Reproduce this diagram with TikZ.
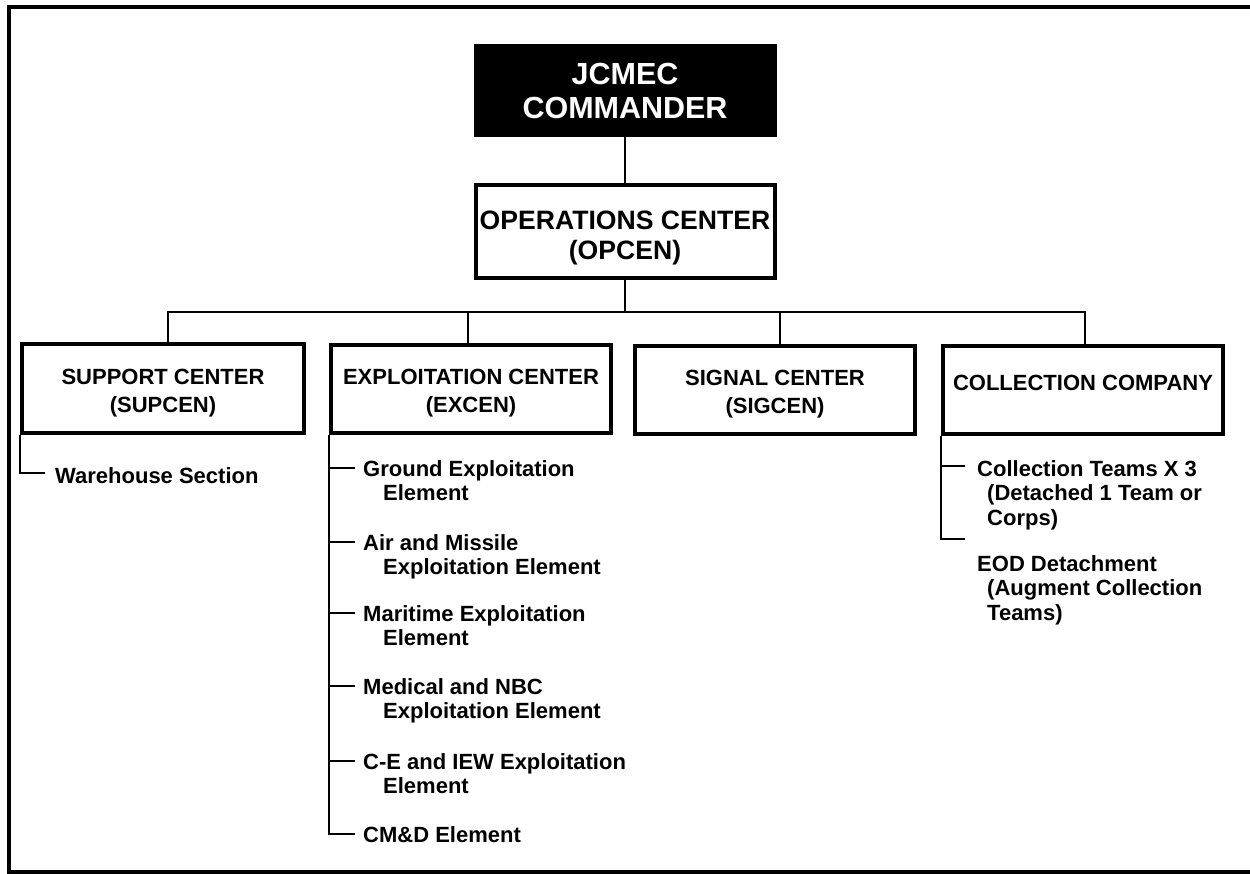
\documentclass[tikz,border=0pt]{standalone}
\usepackage{fontspec}
\setmainfont{Liberation Sans}
\begin{document}
\begin{tikzpicture}[x=1pt,y=-1pt,
  box/.style={draw, line width=4pt, rectangle, inner sep=0pt, align=center,
    font=\fontsize{22}{28}\selectfont\bfseries},
  conn/.style={line width=2.5pt},
  subline/.style={line width=2.2pt, line join=miter},
  item/.style={inner sep=0pt, align=left, anchor=base west,
    font=\fontsize{22}{24.5}\selectfont\bfseries}]
\useasboundingbox (0,0) rectangle (1250,873);
% outer frame
\draw[line width=4pt] (9,7) rectangle (1262,872);
% top boxes
\node[draw, fill=black, text=white, line width=1pt, inner sep=0pt, align=center,
  minimum width=302pt, minimum height=92pt,
  font=\fontsize{30.5}{34}\selectfont\bfseries] (cmd) at (625,90.5) {JCMEC\\COMMANDER};
\node[box, minimum width=299pt, minimum height=93pt, text height=62pt,
  font=\fontsize{26.6}{30}\selectfont\bfseries] (opc) at (625,231.5) {OPERATIONS CENTER\\(OPCEN)};
% second row
\node[box, minimum width=282pt, minimum height=89pt, text height=51.8pt] (sup) at (163,388.5) {SUPPORT CENTER\\(SUPCEN)};
\node[box, minimum width=280pt, minimum height=88pt, text height=51.8pt] (exc) at (471,389) {EXPLOITATION CENTER\\(EXCEN)};
\node[box, minimum width=280pt, minimum height=88pt, text height=51.8pt] (sig) at (775,389.5) {SIGNAL CENTER\\(SIGCEN)};
\node[box, minimum width=280pt, minimum height=88pt, text depth=14pt] (col) at (1083,389.5) {COLLECTION COMPANY};
% connectors
\coordinate (bus) at (625,312);
\draw[conn] (cmd) -- (opc);
\draw[conn] (opc) -- (bus);
\draw[conn] ([xshift=5pt]sup.north) |- (bus);
\draw[conn] ([xshift=-3pt]exc.north) |- (bus);
\draw[conn] ([xshift=5pt]sig.north) |- (bus);
\draw[conn] ([xshift=2pt]col.north) |- (bus);
% support sub-items
\node[item] (wh) at (55,483) {Warehouse Section};
\coordinate (w1) at (45,473);
\draw[subline] (sup.south west) |- (w1);
% exploitation sub-items (base = baseline of last line)
\node[item] (e1) at (363,500.5) {Ground Exploitation\\\hspace*{20pt}Element};
\node[item] (e2) at (363,574.5) {Air and Missile\\\hspace*{20pt}Exploitation Element};
\node[item] (e3) at (363,645.5) {Maritime Exploitation\\\hspace*{20pt}Element};
\node[item] (e4) at (363,718.5) {Medical and NBC\\\hspace*{20pt}Exploitation Element};
\node[item] (e5) at (363,793.5) {C-E and IEW Exploitation\\\hspace*{20pt}Element};
\node[item] (e6) at (363,842) {CM\&D Element};
\coordinate (x1) at (355,468);
\coordinate (x2) at (355,542);
\coordinate (x3) at (355,613);
\coordinate (x4) at (355,686);
\coordinate (x5) at (355,761);
\coordinate (x6) at (355,834);
\draw[subline] (exc.south west) |- (x6);
\foreach \t in {x1,x2,x3,x4,x5}
  \draw[subline] (exc.south west |- \t) -- (\t);
% collection sub-items
\node[item] (c1) at (977,525) {Collection Teams X 3\\\hspace*{10pt}(Detached 1 Team or\\\hspace*{10pt}Corps)};
\node[item] (c2) at (977,620) {EOD Detachment\\\hspace*{10pt}(Augment Collection\\\hspace*{10pt}Teams)};
\coordinate (k1) at (965,466);
\coordinate (k2) at (965,539);
\draw[subline] (col.south west) |- (k2);
\draw[subline] (col.south west |- k1) -- (k1);
\end{tikzpicture}
\end{document}
